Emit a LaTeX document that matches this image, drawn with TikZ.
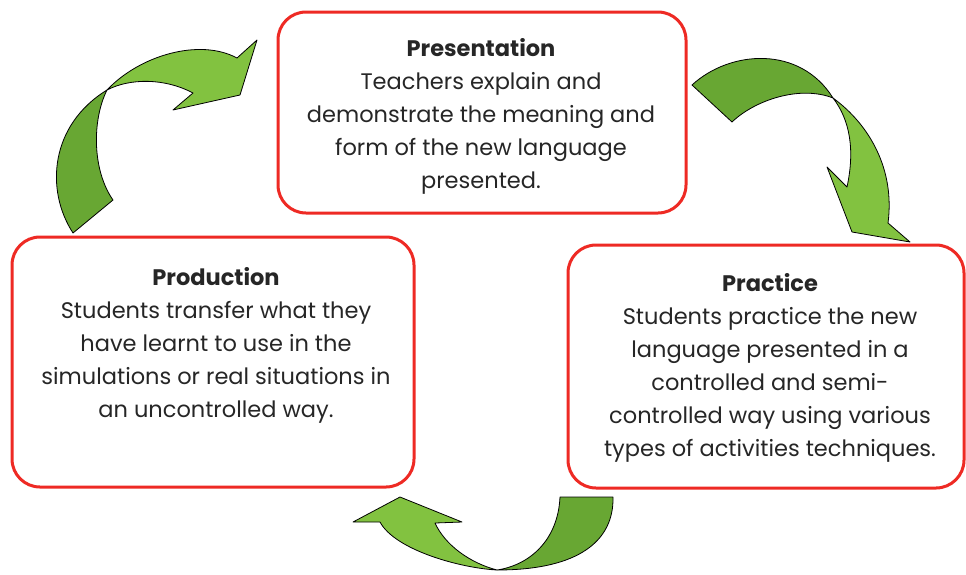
\documentclass[tikz,border=0pt]{standalone}
\usepackage{fontspec}
\setmainfont{Poppins}
\definecolor{boxred}{HTML}{EE2A24}
\definecolor{txt}{HTML}{262626}
\definecolor{gdark}{HTML}{68A733}
\definecolor{glight}{HTML}{82C240}
\tikzset{
  stagebox/.style={draw=boxred, line width=3pt, rounded corners=28pt, fill=white},
  stagetext/.style={align=center, text=txt, font=\fontsize{22.5}{33}\selectfont, inner sep=0pt},
  banddark/.style={fill=gdark, draw=black, line width=0.8pt, line join=round},
  bandlight/.style={fill=glight, draw=black, line width=0.8pt, line join=round}
}
\begin{document}
\begin{tikzpicture}[x=1pt,y=-1pt]
\useasboundingbox (0,0) rectangle (966,574);
% boxes
\node[stagebox, minimum width=408pt, minimum height=201pt] (pres) at (482,112.5) {};
\node[stagebox, minimum width=402pt, minimum height=250pt] (prod) at (213,362) {};
\node[stagebox, minimum width=396pt, minimum height=243pt] (prac) at (766,366.5) {};
% texts
\node[stagetext] (prestext) at (481,116.5) {{\bfseries Presentation}\\Teachers explain and\\demonstrate the meaning and\\form of the new language\\presented.};
\node[stagetext] (prodtext) at (216,345) {{\bfseries Production}\\Students transfer what they\\have learnt to use in the\\simulations or real situations in\\an uncontrolled way.};
\node[stagetext] (practext) at (770,368) {{\bfseries Practice}\\Students practice the new\\language presented in a\\controlled and semi-\\controlled way using various\\types of activities techniques.};
% arrow: production -> presentation
\path[banddark] (73,233) .. controls (45,190) and (50,125) .. (107,90) .. controls (92,120) and (92,170) .. (113,200) -- cycle;
\path[bandlight] (107,90) .. controls (140,55) and (200,38) .. (237,58) -- (257,40) -- (240,95) -- (173,110) -- (193,93) .. controls (165,78) and (130,78) .. (107,90) -- cycle;
% arrow: presentation -> practice
\path[banddark] (692,85) .. controls (730,50) and (800,45) .. (833,98) .. controls (800,85) and (755,100) .. (732,122) -- cycle;
\path[bandlight] (833,98) .. controls (870,125) and (895,170) .. (888,223) -- (910,242) -- (852,232) -- (827,167) -- (847,187) .. controls (855,150) and (850,120) .. (833,98) -- cycle;
% arrow: practice -> production
\path[banddark] (560,497) -- (613,497) .. controls (614,540) and (580,570) .. (497,570) .. controls (530,565) and (558,540) .. (560,497) -- cycle;
\path[bandlight] (497,570) .. controls (460,568) and (395,550) .. (380,522) -- (353,522) -- (400,497) -- (462,522) -- (435,523) .. controls (445,545) and (470,563) .. (497,570) -- cycle;
\end{tikzpicture}
\end{document}
